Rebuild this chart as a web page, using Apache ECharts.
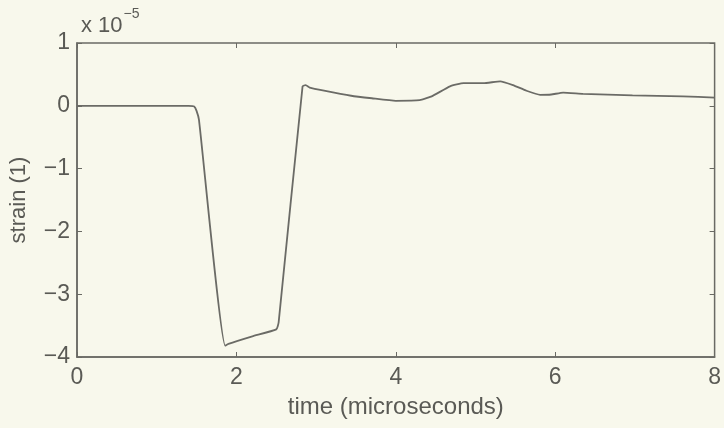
<!DOCTYPE html>
<html>
<head>
<meta charset="utf-8">
<script src="https://cdn.jsdelivr.net/npm/echarts@6/dist/echarts.min.js"></script>
<style>
html,body{margin:0;padding:0;background:#f8f8ec;}
#chart{width:724px;height:428px;}
</style>
</head>
<body>
<div id="chart"></div>
<script>
// time in microseconds, strain in units of 1e-5
var times = [0, 1.40, 1.47, 1.50, 1.53, 1.86, 1.90, 2.20, 2.50, 2.53, 2.83, 2.87, 2.92, 3.10, 3.44, 3.70, 4.00, 4.30, 4.45, 4.68, 4.85, 5.10, 5.31, 5.47, 5.64, 5.81, 5.95, 6.10, 6.35, 6.97, 7.60, 8.00];
var strain = [0, 0, -0.01, -0.08, -0.22, -3.82, -3.79, -3.67, -3.56, -3.45, 0.31, 0.33, 0.29, 0.24, 0.16, 0.12, 0.08, 0.09, 0.15, 0.31, 0.36, 0.36, 0.39, 0.33, 0.24, 0.175, 0.18, 0.21, 0.19, 0.165, 0.15, 0.13];
var xTicks = [0, 2, 4, 6, 8];
var yTicks = [-4, -3, -2, -1, 0, 1];

var axisColor = '#6a6a64';
var textColor = '#5a5a55';
var font = 'Liberation Sans';

var chart = echarts.init(document.getElementById('chart'));

var pts = [];
for (var i = 0; i < times.length; i++) {
	pts.push([times[i], strain[i]]);
}

function minusFmt(v) {
	return v < 0 ? '\u2212' + Math.abs(v) : String(v);
}

var tickStyle = {show: true, inside: true, length: 5, lineStyle: {color: axisColor, width: 1}};

var option = {
	backgroundColor: '#f8f8ec',
	animation: false,
	title: {
		text: '{a|x 10}{b|\u22125}',
		left: 76,
		top: 2,
		textStyle: {
			fontWeight: 'normal',
			rich: {
				a: {fontSize: 22, fontFamily: font, fontWeight: 'normal', color: textColor, verticalAlign: 'bottom', lineHeight: 30},
				b: {fontSize: 14, fontFamily: font, fontWeight: 'normal', color: textColor, verticalAlign: 'top', padding: [0, 0, 14, 1]}
			}
		}
	},
	grid: {
		left: 75, right: 8, top: 43, bottom: 71,
		show: true, borderColor: axisColor, borderWidth: 1.5, backgroundColor: 'transparent'
	},
	xAxis: [{
		type: 'value',
		min: xTicks[0], max: xTicks[xTicks.length - 1], interval: 2,
		name: 'time (microseconds)',
		nameLocation: 'middle',
		nameGap: 38,
		nameTextStyle: {fontSize: 24, fontFamily: font, color: textColor},
		axisLine: {show: true, onZero: false, lineStyle: {color: axisColor, width: 1.5}},
		axisTick: tickStyle,
		axisLabel: {fontSize: 23, fontFamily: font, color: textColor, margin: 9},
		splitLine: {show: false}
	}, {
		type: 'value', position: 'top',
		min: xTicks[0], max: xTicks[xTicks.length - 1], interval: 2,
		axisLine: {show: false, onZero: false},
		axisTick: tickStyle,
		axisLabel: {show: false},
		splitLine: {show: false}
	}],
	yAxis: [{
		type: 'value',
		min: yTicks[0], max: yTicks[yTicks.length - 1], interval: 1,
		name: 'strain (1)',
		nameLocation: 'middle',
		nameGap: 47,
		nameTextStyle: {fontSize: 22, fontFamily: font, color: textColor},
		axisLine: {show: true, onZero: false, lineStyle: {color: axisColor, width: 1.5}},
		axisTick: tickStyle,
		axisLabel: {fontSize: 23, fontFamily: font, color: textColor, margin: 7, formatter: minusFmt},
		splitLine: {show: false}
	}, {
		type: 'value', position: 'right',
		min: yTicks[0], max: yTicks[yTicks.length - 1], interval: 1,
		axisLine: {show: false, onZero: false},
		axisTick: tickStyle,
		axisLabel: {show: false},
		splitLine: {show: false}
	}],
	series: [{
		type: 'line',
		data: pts,
		showSymbol: false,
		smooth: 0.15,
		lineStyle: {color: '#6b6b66', width: 1.8}
	}]
};

chart.setOption(option);
</script>
</body>
</html>
